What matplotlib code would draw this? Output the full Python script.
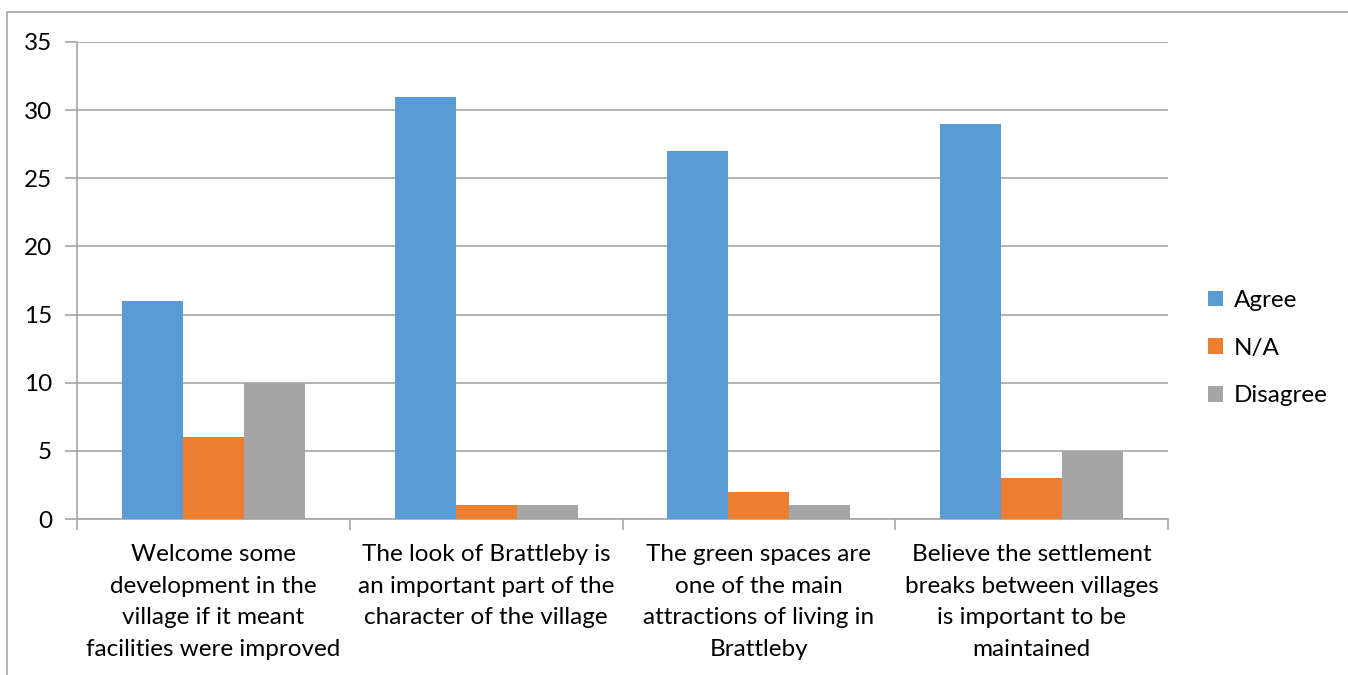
import matplotlib.pyplot as plt
import numpy as np
from matplotlib.patches import Rectangle

plt.rcParams['font.family'] = ['Lato', 'DejaVu Sans']

categories = [
    'Welcome some\ndevelopment in the\nvillage if it meant\nfacilities were improved',
    'The look of Brattleby is\nan important part of the\ncharacter of the village',
    'The green spaces are\none of the main\nattractions of living in\nBrattleby',
    'Believe the settlement\nbreaks between villages\nis important to be\nmaintained',
]
series_names = ['Agree', 'N/A', 'Disagree']
agree = [16, 31, 27, 29]
na = [6, 1, 2, 3]
disagree = [10, 1, 1, 5]
colors = ['#5B9BD5', '#ED7D31', '#A5A5A5']

W, H = 1348, 675
fig = plt.figure(figsize=(W / 100, H / 100), dpi=100)
ax = fig.add_axes([77 / W, 1 - 519 / H, (1168 - 77) / W, (519 - 42) / H])

# outer chart border
fig.patches.append(Rectangle((7 / W, -0.1), 1.2, 1 - 12 / H + 0.1, transform=fig.transFigure,
                             fill=False, edgecolor='#A6A6A6', linewidth=1.2))

x = np.arange(len(categories))
bw = 0.2236
for i, (vals, name) in enumerate(zip([agree, na, disagree], series_names)):
    ax.bar(x + (i - 1) * bw, vals, width=bw, color=colors[i], label=name, zorder=3)

ax.set_xlim(-0.5, len(categories) - 0.5)
ax.set_ylim(0, 35)
ax.set_yticks(range(0, 36, 5))
ax.grid(axis='y', color='#A6A6A6', linewidth=1.2, zorder=0)

for s in ['top', 'right']:
    ax.spines[s].set_visible(False)
for s in ['left', 'bottom']:
    ax.spines[s].set_color('#A6A6A6')
    ax.spines[s].set_linewidth(1.2)

ax.tick_params(axis='y', length=9, color='#A6A6A6', width=1.2, labelsize=17.5, pad=9)
ax.set_xticks(np.arange(-0.5, len(categories)), minor=False)
ax.set_xticklabels([])
ax.tick_params(axis='x', length=8, color='#A6A6A6', width=1.2)
ax.set_xticks(x, minor=True)
ax.set_xticklabels(categories, minor=True, fontsize=17.5, linespacing=1.63)
ax.tick_params(axis='x', which='minor', length=0, pad=18)

leg = ax.legend(loc='center left', bbox_to_anchor=(1.037, 0.358), frameon=False, fontsize=17.5,
                borderpad=0, borderaxespad=0, handlelength=0.6, handleheight=0.6,
                handletextpad=0.45, labelspacing=1.1)

fig.savefig('out.png', dpi=100)
